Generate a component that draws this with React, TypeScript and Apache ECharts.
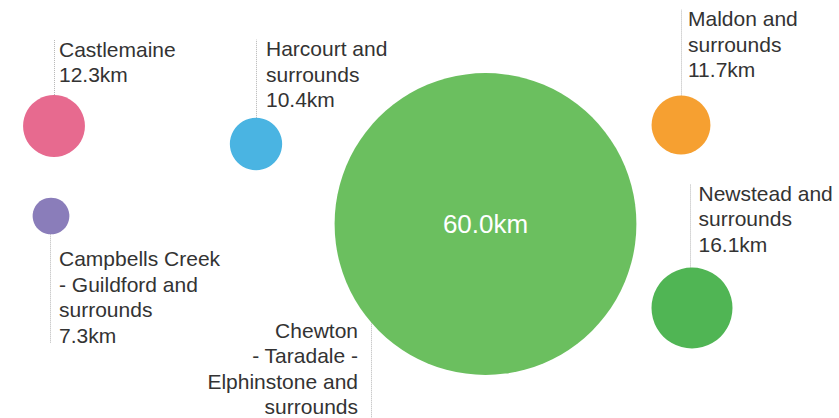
import React, { useEffect, useRef } from "react";
import * as echarts from "echarts";

// ---- data ----
const names = [
  "Castlemaine",
  "Harcourt and\nsurrounds",
  "Maldon and\nsurrounds",
  "Newstead and\nsurrounds",
  "Campbells Creek\n- Guildford and\nsurrounds",
  "Chewton\n- Taradale -\nElphinstone and\nsurrounds",
];
const distances = [12.3, 10.4, 11.7, 16.1, 7.3, 60.0];
const unit = "km";

// ---- styles ----
const colors = ["#e76a8f", "#4ab4e2", "#f6a031", "#50b554", "#8a7dba", "#6bbf5f"];

// ---- layout (bubble centres and label placement, in pixel space) ----
const bubbleX = [54, 256, 681, 692, 51, 485.5];
const bubbleY = [126, 144, 125, 308, 216, 224];
// label settings: leader x, text x, first line centre y, leader far end y, align, value shown in label
const leaderX = [54, 256, 681, 690, 50, 371];
const textX = [59, 266, 688, 698.5, 59, 358];
const textFirstY = [49.3, 48.6, 18.6, 193.3, 258.6, 330];
const leaderEndY = [40, 39.5, 9.3, 184, 343, 430];
const textAlign = ["left", "left", "left", "left", "left", "right"];
const valueInLabel = [true, true, true, true, true, false];

const DIAM_PER_UNIT = 5.03;
const FONT = '"Liberation Sans", Arial, Helvetica, sans-serif';
const LINE_H = 25.5;

export default function App() {
  const ref = useRef<HTMLDivElement>(null);
  useEffect(() => {
    document.body.style.margin = "0";
    const chart = echarts.init(ref.current!, null, { renderer: "svg" });
    const pts = distances.map((v, i) => [bubbleX[i], bubbleY[i], v]);
    chart.setOption({
      animation: false,
      grid: { left: 0, right: 0, top: 0, bottom: 0 },
      xAxis: { type: "value", min: 0, max: 839, show: false },
      yAxis: { type: "value", min: 0, max: 418, inverse: true, show: false },
      series: [
        {
          type: "custom",
          z: 1,
          data: pts,
          renderItem: (params: any, api: any) => {
            const i = params.dataIndex;
            const c = api.coord([api.value(0), api.value(1)]);
            const r = (api.value(2) * DIAM_PER_UNIT) / 2;
            const lx = api.coord([leaderX[i], 0])[0];
            const dx = lx - c[0];
            const dy = Math.sqrt(Math.max(r * r - dx * dx, 0));
            const endY = api.coord([0, leaderEndY[i]])[1];
            const up = endY < c[1];
            const startY = up ? c[1] - dy : c[1] + dy;
            const tx = api.coord([textX[i], 0])[0];
            const ty = api.coord([0, textFirstY[i]])[1] - LINE_H / 2;
            const label = names[i] + (valueInLabel[i] ? "\n" + distances[i].toFixed(1) + unit : "");
            const px = Math.round(lx) + 0.5;
            return {
              type: "group",
              children: [
                {
                  type: "line",
                  shape: { x1: px, y1: startY, x2: px, y2: endY },
                  style: { stroke: "#b5b5b5", lineWidth: 1, lineDash: [1, 1] },
                },
                {
                  type: "text",
                  style: {
                    text: label,
                    x: tx,
                    y: ty,
                    fill: "#333333",
                    font: "21px " + FONT,
                    lineHeight: LINE_H,
                    align: textAlign[i],
                    verticalAlign: "top",
                  },
                },
              ],
            };
          },
        },
        {
          type: "scatter",
          z: 2,
          data: pts.map((p, i) => ({
            value: p,
            itemStyle: { color: colors[i], opacity: 1 },
            label: {
              show: !valueInLabel[i],
              position: "inside",
              formatter: distances[i].toFixed(1) + unit,
              color: "#ffffff",
              fontSize: 26,
              fontFamily: FONT,
            },
          })),
          symbol: "circle",
          symbolSize: (v: number[]) => v[2] * DIAM_PER_UNIT,
          emphasis: { disabled: true },
        },
      ],
    });
    return () => chart.dispose();
  }, []);
  return (
    <div
      ref={ref}
      style={{ position: "absolute", left: 0, top: 0, width: 839, height: 418, background: "#ffffff" }}
    />
  );
}
